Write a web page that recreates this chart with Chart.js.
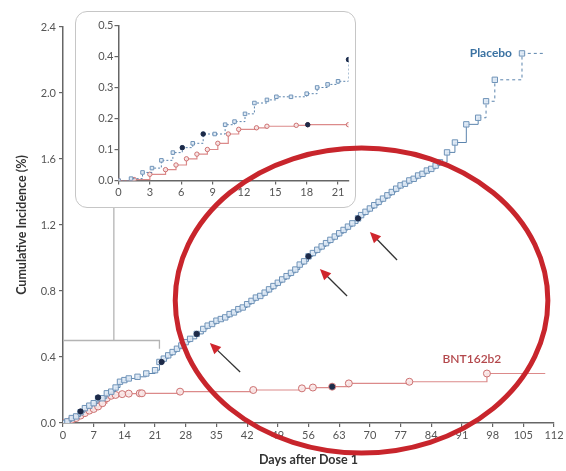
<!DOCTYPE html>
<html>
<head>
<meta charset="utf-8">
<script src="https://cdn.jsdelivr.net/npm/chart.js@4/dist/chart.umd.min.js"></script>
<style>
  html, body { margin: 0; padding: 0; background: #fff; }
  #wrap { position: relative; width: 566px; height: 471px; }
  #main, #overlay { position: absolute; left: 0; top: 0; }
  #overlay { pointer-events: none; }
  #insetBox { position: absolute; left: 75px; top: 11px; width: 281px; height: 197px;
    border: 1.5px solid #c6c6c6; border-radius: 12px; background: #fff; box-sizing: border-box; overflow: hidden; }
  #inset { position: absolute; left: 0; top: 0; }
</style>
</head>
<body>
<div id="wrap">
  <canvas id="main" width="566" height="471"></canvas>
  <div id="insetBox"><canvas id="inset" width="278" height="194"></canvas></div>
  <canvas id="overlay" width="566" height="471"></canvas>
</div>
<script>
// main panel, days 0-112
const placeboDays = [0,1,2,3,4,5,6,7,8,9,10,11,12,13,14,15,17,19,21,22,23,24,25,26,27,28,29,30.5,
  32,33,34,35,36,37,38,39,40,41,42,43,44,45,46,47,48,49,50,51,52,53,54,55,56,57,58,59,60,61,62,63,64,65,66,67.3,
  68,69,70,71,72,73,74,75,76,77,78,79,80,81,82,83,84,85,86,87.6,89.4,92,94.7,96.5,98.5,104.7,110];
const placeboPct = [0,0.01,0.03,0.04,0.065,0.09,0.105,0.12,0.15,0.15,0.18,0.19,0.215,0.25,0.26,0.27,0.28,0.30,0.32,0.37,0.39,0.41,0.43,0.45,0.47,0.49,0.51,0.54,
  0.57,0.59,0.60,0.62,0.63,0.64,0.66,0.67,0.69,0.70,0.72,0.74,0.76,0.77,0.79,0.81,0.83,0.85,0.87,0.89,0.91,0.93,0.96,0.98,1.01,1.03,1.05,1.07,1.09,1.11,1.13,1.15,1.17,1.19,1.21,1.24,
  1.26,1.28,1.30,1.32,1.34,1.36,1.38,1.40,1.42,1.44,1.45,1.47,1.48,1.50,1.51,1.53,1.54,1.56,1.58,1.64,1.70,1.81,1.85,1.95,2.08,2.24,2.24];
const placeboDarkDays = [4, 8, 22.5, 30.5, 56, 67.3];
const placeboDarkPct = [0.07, 0.155, 0.37, 0.54, 1.01, 1.24];

const bntDays = [0,1,2,3,4,5,6,7,8,9,10,11,12,13.5,15,17.5,18,26.7,43.4,54.5,57,61.4,65.2,79,96.7,110];
const bntPct = [0,0.005,0.02,0.03,0.045,0.06,0.075,0.085,0.10,0.12,0.15,0.165,0.17,0.175,0.178,0.18,0.18,0.19,0.20,0.21,0.215,0.22,0.24,0.25,0.30,0.30];
const bntDarkDays = [61.4];
const bntDarkPct = [0.22];

// inset panel, days 0-22
const insetPlaceboDays = [0,1.2,2.3,3.2,4.1,5.2,6.1,7.1,8.1,9.2,10.2,11.1,12.1,13.0,14.2,15.1,16.5,18,19,20,21,22];
const insetPlaceboPct = [0,0.006,0.026,0.04,0.065,0.09,0.106,0.12,0.15,0.15,0.18,0.19,0.215,0.25,0.26,0.27,0.27,0.28,0.30,0.31,0.32,0.39];
const insetPlaceboDarkDays = [6.1, 8.1, 22];
const insetPlaceboDarkPct = [0.106, 0.15, 0.39];
const insetBntDays = [0,1.5,3,4.5,5.5,6.5,7.5,8.5,9.5,10.5,11.5,13.2,14.2,17,18.1,22];
const insetBntPct = [0,0.003,0.02,0.035,0.05,0.07,0.085,0.10,0.12,0.15,0.165,0.17,0.175,0.178,0.18,0.18];
const insetBntDarkDays = [18.1];
const insetBntDarkPct = [0.18];

const xTicksMain = { min: 0, max: 112, step: 7 };
const yTicksMain = { min: 0, max: 2.4, step: 0.4 };
const xTicksInset = { min: 0, max: 22, step: 3 };
const yTicksInset = { min: 0, max: 0.5, step: 0.1 };

// marked-up annotations (red ring and arrows), in data units
const ring = { day: 68.1, pct: 0.742, rDays: 42.5, rPct: 0.924 };
const arrows = [
  { from: [40.4, 0.309], to: [33.5, 0.485] },
  { from: [64.8, 0.77], to: [58.6, 0.933] },
  { from: [76.2, 0.988], to: [70.0, 1.158] }
];
const zoomBox = { day: 22, pct: 0.5, linkDay: 11.6 };

const pairs = (xs, ys) => xs.map((x, i) => ({ x: x, y: ys[i] }));
const FONT = 'Lato, "Open Sans", sans-serif';
const navy = '#1d2a48';

function axis(t, opts) {
  return Object.assign({
    type: 'linear', min: t.min, max: t.max,
    ticks: { stepSize: t.step, color: '#555', font: { family: FONT, size: 11 }, padding: 2,
      maxRotation: 0, autoSkip: false, includeBounds: false },
    grid: { drawOnChartArea: false, tickLength: 4, color: '#666', lineWidth: 1.2 },
    border: { color: '#666', width: 1.5 }
  }, opts);
}

const notes = {
  id: 'notes',
  beforeDatasetsDraw(chart) {
    const { ctx, scales: { x, y } } = chart;
    ctx.save();
    ctx.strokeStyle = '#b4b4b4';
    ctx.lineWidth = 1.3;
    ctx.beginPath();
    ctx.moveTo(x.getPixelForValue(0), y.getPixelForValue(zoomBox.pct));
    ctx.lineTo(x.getPixelForValue(zoomBox.day), y.getPixelForValue(zoomBox.pct));
    ctx.lineTo(x.getPixelForValue(zoomBox.day), y.getPixelForValue(zoomBox.pct - 0.05));
    ctx.moveTo(x.getPixelForValue(zoomBox.linkDay), y.getPixelForValue(zoomBox.pct));
    ctx.lineTo(x.getPixelForValue(zoomBox.linkDay), chart.chartArea.top);
    ctx.stroke();
    ctx.restore();
  },
  afterDatasetsDraw(chart) {
    const { ctx, scales: { x, y } } = chart;
    ctx.save();
    ctx.textBaseline = 'middle';
    ctx.font = 'bold 12px ' + FONT;
    ctx.fillStyle = '#3b72a2';
    ctx.textAlign = 'right';
    const lp = placeboDays.length - 2;
    ctx.fillText('Placebo', x.getPixelForValue(placeboDays[lp]) - 10, y.getPixelForValue(placeboPct[lp]));
    ctx.font = '600 12px ' + FONT;
    ctx.fillStyle = '#b3474b';
    ctx.textAlign = 'center';
    const lb = bntDays.length - 2;
    ctx.fillText('BNT162b2', x.getPixelForValue(bntDays[lb]) - 15, y.getPixelForValue(bntPct[lb]) - 14);
    ctx.restore();
  }
};

const mainChart = new Chart(document.getElementById('main'), {
  type: 'scatter',
  data: {
    datasets: [
      { data: pairs(placeboDarkDays, placeboDarkPct), pointRadius: 2.6, pointBackgroundColor: navy, pointBorderColor: navy },
      { data: pairs(bntDarkDays, bntDarkPct), pointRadius: 2.6, pointBackgroundColor: navy, pointBorderColor: navy },
      {
        label: 'Placebo', data: pairs(placeboDays, placeboPct), showLine: true, stepped: true,
        borderColor: '#5b84ad', borderWidth: 1,
        segment: { borderDash: c => c.p0.parsed.x >= 94 ? [3, 3] : undefined },
        pointStyle: 'rect', pointRadius: c => (c.raw && c.raw.x >= 110) ? 0 : 3.8,
        pointBorderColor: '#6f93b8', pointBackgroundColor: 'rgba(222,233,245,0.9)', pointBorderWidth: 1
      },
      {
        label: 'BNT162b2', data: pairs(bntDays, bntPct), showLine: true, stepped: true,
        borderColor: '#dc8a8a', borderWidth: 1.2,
        pointStyle: 'circle', pointRadius: c => (c.raw && c.raw.x >= 110) ? 0 : 3.5,
        pointBorderColor: '#cc7070', pointBackgroundColor: 'rgba(250,232,232,0.9)', pointBorderWidth: 1
      }
    ]
  },
  options: {
    responsive: false, animation: false,
    layout: { padding: { top: 27, right: 12, left: 0, bottom: 0 } },
    plugins: { legend: { display: false }, tooltip: { enabled: false } },
    scales: {
      x: axis(xTicksMain, {
        title: { display: true, text: 'Days after Dose 1', color: '#333',
          font: { family: FONT, size: 12.5, weight: 'bold' }, padding: { top: 7 } },
        afterFit: s => { s.height = 48; }
      }),
      y: axis(yTicksMain, {
        ticks: { stepSize: yTicksMain.step, color: '#555', font: { family: FONT, size: 11 }, padding: 3,
          callback: v => v.toFixed(1) },
        title: { display: true, text: 'Cumulative Incidence (%)', color: '#333',
          font: { family: FONT, size: 12.5, weight: 'bold' }, padding: { top: 14, bottom: 0 } },
        afterFit: s => { s.width = 63; }
      })
    }
  },
  plugins: [notes]
});

new Chart(document.getElementById('inset'), {
  type: 'scatter',
  data: {
    datasets: [
      { data: pairs(insetPlaceboDarkDays, insetPlaceboDarkPct), pointRadius: 2.2, pointBackgroundColor: navy, pointBorderColor: navy },
      { data: pairs(insetBntDarkDays, insetBntDarkPct), pointRadius: 2.2, pointBackgroundColor: navy, pointBorderColor: navy },
      {
        data: pairs(insetPlaceboDays, insetPlaceboPct), showLine: true, stepped: true,
        borderColor: '#5b84ad', borderWidth: 1, borderDash: [2, 2],
        pointStyle: 'rect', pointRadius: 2.5,
        pointBorderColor: '#6f93b8', pointBackgroundColor: 'rgba(226,236,246,0.9)', pointBorderWidth: 1
      },
      {
        data: pairs(insetBntDays, insetBntPct), showLine: true, stepped: true,
        borderColor: '#dc8a8a', borderWidth: 1.2,
        pointStyle: 'circle', pointRadius: 2.2,
        pointBorderColor: '#cc7070', pointBackgroundColor: 'rgba(250,232,232,0.9)', pointBorderWidth: 1
      }
    ]
  },
  options: {
    responsive: false, animation: false,
    layout: { padding: { top: 13.5, right: 5.5, left: 0, bottom: 0 } },
    plugins: { legend: { display: false }, tooltip: { enabled: false } },
    scales: {
      x: axis(xTicksInset, {
        ticks: { stepSize: xTicksInset.step, color: '#555', font: { family: FONT, size: 11 }, padding: 1,
          maxRotation: 0, autoSkip: false, includeBounds: false },
        afterBuildTicks: s => { s.ticks = s.ticks.filter(t => t.value % xTicksInset.step === 0); },
        afterFit: s => { s.height = 25.5; }
      }),
      y: axis(yTicksInset, {
        ticks: { stepSize: yTicksInset.step, color: '#555', font: { family: FONT, size: 11 }, padding: 1,
          callback: v => v.toFixed(1) },
        afterFit: s => { s.width = 42.5; }
      })
    }
  }
});

// red ring and arrows on top of everything
(function drawMarkup() {
  const ctx = document.getElementById('overlay').getContext('2d');
  const sx = mainChart.scales.x, sy = mainChart.scales.y;
  const px = d => sx.getPixelForValue(d), py = v => sy.getPixelForValue(v);
  ctx.strokeStyle = '#c8252c';
  ctx.lineWidth = 5;
  ctx.beginPath();
  ctx.ellipse(px(ring.day), py(ring.pct), px(ring.day + ring.rDays) - px(ring.day),
    py(ring.pct) - py(ring.pct + ring.rPct), 0, 0, Math.PI * 2);
  ctx.stroke();

  arrows.forEach(a => {
    const x0 = px(a.from[0]), y0 = py(a.from[1]), x1 = px(a.to[0]), y1 = py(a.to[1]);
    const ang = Math.atan2(y1 - y0, x1 - x0);
    ctx.strokeStyle = '#333';
    ctx.lineWidth = 1.3;
    ctx.beginPath();
    ctx.moveTo(x0, y0);
    ctx.lineTo(x1 - 6 * Math.cos(ang), y1 - 6 * Math.sin(ang));
    ctx.stroke();
    ctx.fillStyle = '#d0262d';
    ctx.beginPath();
    ctx.moveTo(x1, y1);
    ctx.lineTo(x1 - 11 * Math.cos(ang) + 5 * Math.sin(ang), y1 - 11 * Math.sin(ang) - 5 * Math.cos(ang));
    ctx.lineTo(x1 - 11 * Math.cos(ang) - 5 * Math.sin(ang), y1 - 11 * Math.sin(ang) + 5 * Math.cos(ang));
    ctx.closePath();
    ctx.fill();
  });
})();
</script>
</body>
</html>
